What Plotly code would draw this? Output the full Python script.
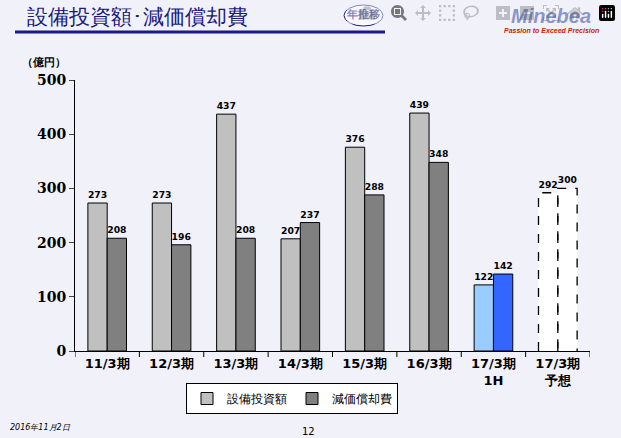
import plotly.graph_objects as go

categories = ["11/3期", "12/3期", "13/3期", "14/3期", "15/3期", "16/3期", "17/3期<br>1H", "17/3期<br>予想"]
capex = [273, 273, 437, 207, 376, 439, 122, 292]
depreciation = [208, 196, 208, 237, 288, 348, 142, 300]
y_ticks = [0, 100, 200, 300, 400, 500]

W, H = 621, 438
L, R, T, B = 75, 590, 80, 351


def px(x):
    return (x - L) / (R - L)


def py(y):
    return (B - y) / (B - T)


idx = list(range(len(categories)))
n = len(categories)
capex_colors = ["#C0C0C0"] * (n - 2) + ["#99CCFF", "#FFFFFF"]
dep_colors = ["#808080"] * (n - 2) + ["#3366FF", "#FFFFFF"]
line_w = [1] * (n - 1) + [0]
font_num = dict(family="DejaVu Sans", size=14, color="black")

fig = go.Figure()
fig.add_trace(go.Bar(x=idx, y=capex, name="設備投資額", marker=dict(color=capex_colors, line=dict(color="black", width=line_w)),
                     text=["<b>%d</b>" % v for v in capex], textposition="outside", textfont=font_num, cliponaxis=False))
fig.add_trace(go.Bar(x=idx, y=depreciation, name="減価償却費", marker=dict(color=dep_colors, line=dict(color="black", width=line_w)),
                     text=["<b>%d</b>" % v for v in depreciation], textposition="outside", textfont=font_num, cliponaxis=False))

# dashed outlines for the forecast bars
hw = 0.3
for off, val in [(-hw, capex[-1]), (0, depreciation[-1])]:
    c = idx[-1] + off
    fig.add_trace(go.Scatter(x=[c, c, c + hw, c + hw], y=[0, val, val, 0], mode="lines",
                             line=dict(color="black", width=1.3, dash="dash"), showlegend=False, hoverinfo="skip"))

fig.update_layout(
    width=W, height=H,
    margin=dict(l=L, r=W - R, t=T, b=H - B),
    paper_bgcolor="#F1F1FA", plot_bgcolor="rgba(0,0,0,0)",
    barmode="group", bargap=0.4, bargroupgap=0,
    font=dict(family="DejaVu Sans", color="black"),
    xaxis=dict(range=[-0.5, n - 0.5], tickvals=idx, ticktext=["<b>%s</b>" % c for c in categories],
               tickfont=dict(size=13), showline=True, linecolor="black", showgrid=False, ticks=""),
    yaxis=dict(range=[0, 500], tickvals=y_ticks, ticktext=["<b>%d</b>" % v for v in y_ticks],
               tickfont=dict(size=14, family="DejaVu Serif"), showline=True, linecolor="black",
               ticks="outside", ticklen=5, showgrid=False, zeroline=False),
    legend=dict(orientation="h", x=px(292), xanchor="center", y=py(383), yanchor="top",
                bordercolor="black", borderwidth=1, bgcolor="white", font=dict(size=12),
                itemwidth=30, traceorder="normal"),
    showlegend=True,
)

# category boundary ticks on the x axis
shapes = []
for i in range(n + 1):
    shapes.append(dict(type="line", xref="x", yref="paper", x0=i - 0.5, x1=i - 0.5, y0=0, y1=py(B + 6),
                       line=dict(color="black", width=1)))
# header underline and badge
shapes.append(dict(type="line", xref="paper", yref="paper", x0=px(15), x1=px(385), y0=py(32), y1=py(32),
                   line=dict(color="#1A1A80", width=3)))
shapes.append(dict(type="circle", xref="paper", yref="paper", x0=px(344), x1=px(383), y0=py(26), y1=py(5),
                   line=dict(color="#1A1A80", width=1), fillcolor="white"))
fig.update_layout(shapes=shapes)

ann = [
    dict(text="設備投資額･減価償却費", x=px(25), y=py(17), font=dict(size=21, color="#1A1A80")),
    dict(text="<b>年推移</b>", x=px(363), y=py(15), xanchor="center", font=dict(size=11, color="#1A1A80")),
    dict(text="<b><i>Minebea</i></b>", x=px(551), y=py(16), xanchor="center", font=dict(size=20, color="#1E3C96", family="Liberation Sans")),
    dict(text="<b><i>Passion to Exceed Precision</i></b>", x=px(551), y=py(30), xanchor="center", font=dict(size=7, color="#CC2200", family="Liberation Sans")),
    dict(text="<b>（億円）</b>", x=px(20), y=py(63), font=dict(size=11)),
    dict(text="<i>2016年11月2日</i>", x=px(8), y=py(427), font=dict(size=8)),
    dict(text="12", x=px(308), y=py(431), xanchor="center", font=dict(size=10)),
]
for a in ann:
    a.setdefault("xanchor", "left")
    fig.add_annotation(xref="paper", yref="paper", showarrow=False, yanchor="middle", **a)

fig.write_html("out.html")

# drop the default page margin so the figure sits at the window corner
with open("out.html", encoding="utf-8") as f:
    html = f.read()
html = html.replace("<head>", "<head><style>body{margin:0}</style>", 1)
with open("out.html", "w", encoding="utf-8") as f:
    f.write(html)
